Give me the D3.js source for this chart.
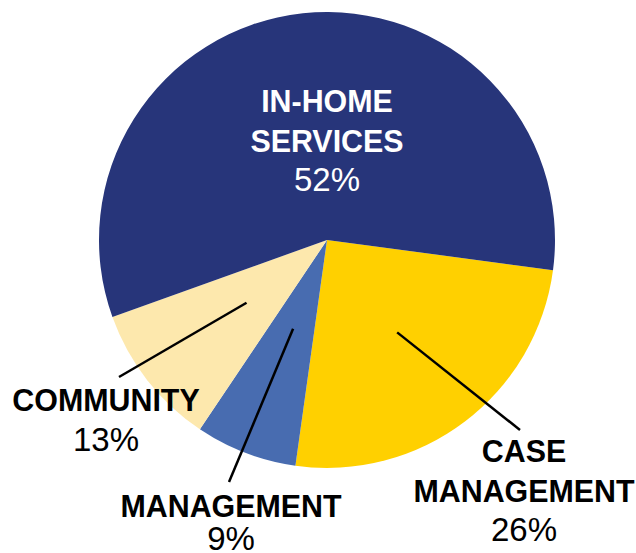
<html><head>
  <script src="https://cdn.jsdelivr.net/npm/d3@7"></script>
  <style>
  body { margin: 0; background: #fff; }
  #pie text {
    font-family: "Liberation Sans", Arial, sans-serif;
    font-size: 32px;
    text-anchor: middle;
  }
  #pie .name { font-weight: bold; }
  #pie .pct { font-size: 33px; }
  #pie .leader { stroke: #000; stroke-width: 2.5px; fill: none; }
  </style>
</head>
<body>
  <svg id="pie" width="636" height="553"></svg>

  <script>

  // data, in drawing order (clockwise, starting just below 3 o'clock)
  const categories = ["CASE MANAGEMENT", "MANAGEMENT", "COMMUNITY", "IN-HOME SERVICES"];
  const sliceShares = [25.1, 7.2, 10.1, 57.6];   // share of the circle as drawn
  const percentLabels = ["26%", "9%", "13%", "52%"];
  const nameLines = [["CASE", "MANAGEMENT"], ["MANAGEMENT"], ["COMMUNITY"], ["IN-HOME", "SERVICES"]];
  const sliceColors = ["#FFD000", "#486CB0", "#FDE8AD", "#27357A"];

  // layout
  const cx = 327, cy = 240, radius = 228;
  const startDeg = 97.6;
  const lineGap = 40;
  // label anchor (center x, first baseline) + leader end, relative to pie center
  const labelLayout = [
    { x: 197, y: 222, pctGap: 39, leadFrom: 116, leadTo: [193, 190], textColor: "#000" },
    { x: -96, y: 277, pctGap: 33, leadFrom: 95,  leadTo: [-98, 242], textColor: "#000" },
    { x: -221, y: 171, pctGap: 40, leadFrom: 102, leadTo: [-208, 137], textColor: "#000" },
    { x: 0, y: -128, pctGap: 39, leadFrom: null, leadTo: null, textColor: "#fff" }
  ];

  let svg = d3.select("#pie");
  let g = svg.append("g").attr("transform", "translate(" + cx + "," + cy + ")");

  let pie = d3.pie().sort(null).value(d => d.share)
    .startAngle(startDeg * Math.PI / 180)
    .endAngle((startDeg + 360) * Math.PI / 180);
  let arc = d3.arc().innerRadius(0).outerRadius(radius);

  let rows = categories.map((c, i) => ({
    name: c, share: sliceShares[i], pct: percentLabels[i],
    lines: nameLines[i], color: sliceColors[i], lay: labelLayout[i]
  }));
  let arcs = pie(rows);

  g.selectAll("path.slice")
    .data(arcs)
    .enter().append("path")
    .attr("class", "slice")
    .attr("d", arc)
    .attr("fill", d => d.data.color);

  // leader lines
  arcs.forEach(d => {
    let lay = d.data.lay;
    if (lay.leadFrom === null) return;
    let mid = (d.startAngle + d.endAngle) / 2;
    let x0 = lay.leadFrom * Math.sin(mid), y0 = -lay.leadFrom * Math.cos(mid);
    g.append("line")
      .attr("class", "leader")
      .attr("x1", x0).attr("y1", y0)
      .attr("x2", lay.leadTo[0]).attr("y2", lay.leadTo[1]);
  });

  // labels
  arcs.forEach(d => {
    let lay = d.data.lay;
    let n = d.data.lines.length;
    d.data.lines.forEach((ln, j) => {
      g.append("text")
        .attr("class", "name")
        .attr("transform", "translate(" + lay.x + "," + (lay.y + j * lineGap) + ") scale(0.95,1)")
        .attr("fill", lay.textColor)
        .text(ln);
    });
    g.append("text")
      .attr("class", "pct")
      .attr("transform", "translate(" + lay.x + "," + (lay.y + (n - 1) * lineGap + lay.pctGap) + ")")
      .attr("fill", lay.textColor)
      .text(d.data.pct);
  });

  </script>
</body>
</html>
